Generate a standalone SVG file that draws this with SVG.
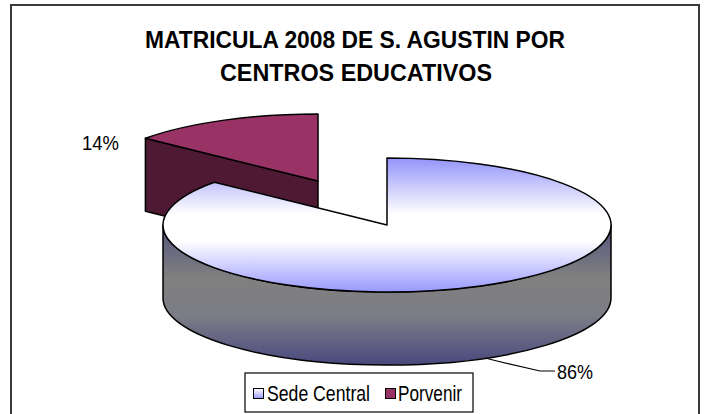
<svg xmlns="http://www.w3.org/2000/svg" width="705" height="414" viewBox="0 0 705 414">
<defs>
<style>
.t{font-family:"Liberation Sans",Arial,sans-serif;fill:#000}
.title{font-size:24px;font-weight:bold}
.lbl{font-size:20px}
.leg{font-size:22px}
.edge{stroke:#000;stroke-width:1.5;stroke-linejoin:round}
</style>
<linearGradient id="topG" gradientUnits="userSpaceOnUse" x1="0" y1="158" x2="0" y2="292">
<stop offset="0" stop-color="#9494fa"/>
<stop offset="0.42" stop-color="#ffffff"/>
<stop offset="0.62" stop-color="#ffffff"/>
<stop offset="1" stop-color="#9999ff"/>
</linearGradient>
<linearGradient id="sideG" gradientUnits="userSpaceOnUse" x1="0" y1="225" x2="0" y2="366">
<stop offset="0" stop-color="#55557e"/>
<stop offset="0.38" stop-color="#808080"/>
<stop offset="0.65" stop-color="#7c7c86"/>
<stop offset="1" stop-color="#48487e"/>
</linearGradient>
<linearGradient id="legG" x1="0" y1="0" x2="0" y2="1">
<stop offset="0" stop-color="#ffffff"/>
<stop offset="1" stop-color="#9999ff"/>
</linearGradient>
</defs>
<rect x="0" y="0" width="705" height="414" fill="#fff"/>
<rect id="frame" x="11" y="5" width="688" height="420" fill="#fff" stroke="#3a3a3a" stroke-width="2"/>

<g id="title">
<text class="t title" x="145" y="48" textLength="420" lengthAdjust="spacingAndGlyphs">MATRICULA 2008 DE S. AGUSTIN POR</text>
<text class="t title" x="220" y="81" textLength="272" lengthAdjust="spacingAndGlyphs">CENTROS EDUCATIVOS</text>
</g>

<g id="slice-porvenir">
<path class="edge" d="M318,181 L145.4,138.3 L145.4,211.3 L318,254 Z" fill="#4d1933"/>
<path class="edge" d="M318,181 L318,114 A224 67 0 0 0 145.4,138.3 Z" fill="#993366"/>
</g>

<g id="slice-sede-central">
<path class="edge" d="M163,225 A224 67 0 0 0 611,225 L611,298 A224 67 0 0 1 163,298 Z" fill="url(#sideG)"/>
<path class="edge" d="M387,225 L214.4,182.3 A224 67 0 1 0 387,158 Z" fill="url(#topG)"/>
</g>

<g id="connectors">
<polyline points="485,358 497,361 540,371 555,371" fill="none" stroke="#000" stroke-width="1.2"/>
</g>

<g id="labels">
<text class="t lbl" x="82" y="150" textLength="37" lengthAdjust="spacingAndGlyphs">14%</text>
<text class="t lbl" x="557" y="379" textLength="36" lengthAdjust="spacingAndGlyphs">86%</text>
</g>

<g id="legend">
<rect x="245" y="373" width="228" height="39" fill="#fff" stroke="#000" stroke-width="1.2"/>
<rect x="253.5" y="388.5" width="10" height="10" fill="url(#legG)" stroke="#000" stroke-width="1"/>
<text class="t leg" x="267" y="401" textLength="103" lengthAdjust="spacingAndGlyphs">Sede Central</text>
<rect x="385.5" y="388.5" width="10" height="10" fill="#993366" stroke="#000" stroke-width="1"/>
<text class="t leg" x="398" y="401" textLength="64" lengthAdjust="spacingAndGlyphs">Porvenir</text>
</g>
</svg>
